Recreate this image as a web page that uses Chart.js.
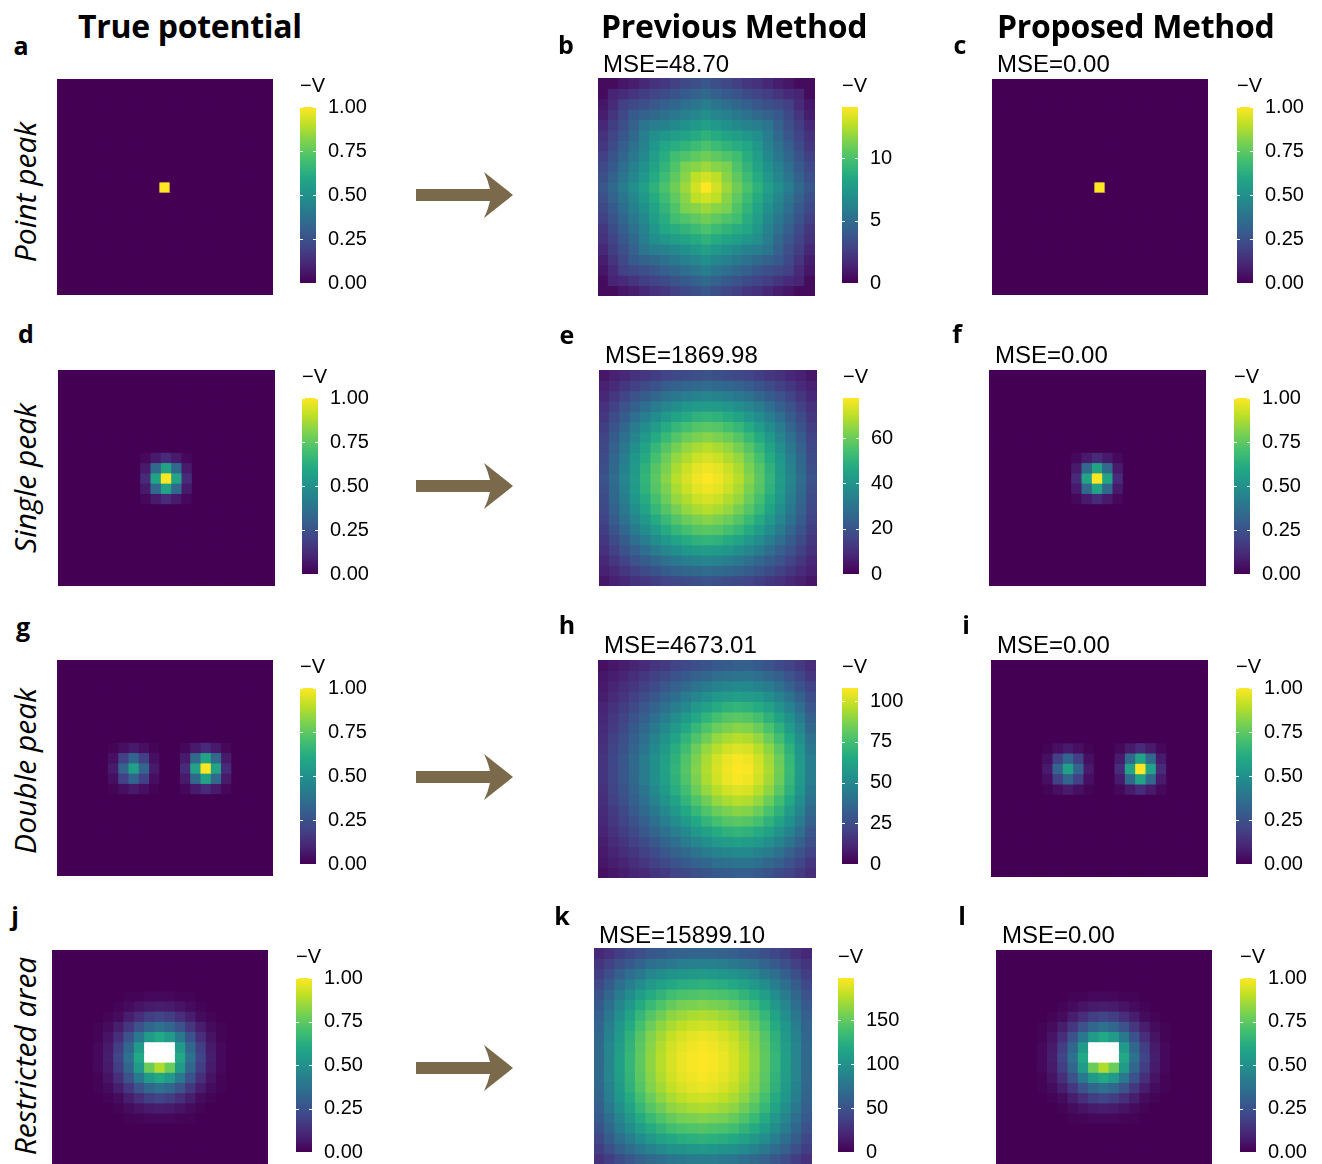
<!DOCTYPE html>
<html>
<head>
<meta charset="utf-8">
<script src="https://cdn.jsdelivr.net/npm/chart.js@4.4.1/dist/chart.umd.min.js"></script>
<style>
body{margin:0;background:#fff;width:1322px;height:1164px;position:relative;overflow:hidden;font-family:'Liberation Sans',Arial,sans-serif;color:#000}
canvas{position:absolute}
.t{position:absolute;white-space:nowrap;line-height:1}
.title{font-family:'Open Sans';font-weight:700;font-size:32px;letter-spacing:-0.3px;transform:translateY(-50%)}
.lt{font-family:'Open Sans';font-weight:700;font-size:25px;transform:translate(-50%,-50%)}
.mse{font-size:24px;transform:translateY(-50%)}
.row{font-family:'Open Sans';font-style:italic;font-size:30px;transform:translate(-50%,-50%) rotate(-90deg)}
.cbl{font-size:20px;transform:translateY(-50%)}
svg{position:absolute;left:0;top:0}
</style>
</head>
<body>
<svg width="1322" height="1164">
  <g fill="#7a6a4b">
    <path transform="translate(0,0)" d="M416,189 L490,189 Q488,180 484,172 L513,195 L484,218 Q488,210 490,201 L416,201 Z"/>
    <path transform="translate(0,291)" d="M416,189 L490,189 Q488,180 484,172 L513,195 L484,218 Q488,210 490,201 L416,201 Z"/>
    <path transform="translate(0,582)" d="M416,189 L490,189 Q488,180 484,172 L513,195 L484,218 Q488,210 490,201 L416,201 Z"/>
    <path transform="translate(0,873)" d="M416,189 L490,189 Q488,180 484,172 L513,195 L484,218 Q488,210 490,201 L416,201 Z"/>
  </g>
</svg>
<script>
// ---- data (cells as [row, col, -V]) ----
const truePointCells = [[10, 10, 1.00]];

const trueSingleCells = [
  [10, 10, 1.00],
  [9, 10, 0.58], [11, 10, 0.58], [10, 9, 0.58], [10, 11, 0.58],
  [9, 9, 0.34], [9, 11, 0.34], [11, 9, 0.34], [11, 11, 0.34],
  [8, 10, 0.12], [12, 10, 0.12], [10, 8, 0.12], [10, 12, 0.12],
  [8, 9, 0.07], [8, 11, 0.07], [12, 9, 0.07], [12, 11, 0.07],
  [9, 8, 0.07], [11, 8, 0.07], [9, 12, 0.07], [11, 12, 0.07],
  [8, 8, 0.02], [8, 12, 0.02], [12, 8, 0.02], [12, 12, 0.02]
];

const trueDoubleCells = [
  // left (weaker) peak
  [10, 7, 0.56],
  [9, 7, 0.32], [11, 7, 0.32], [10, 6, 0.32], [10, 8, 0.32],
  [9, 6, 0.19], [9, 8, 0.19], [11, 6, 0.19], [11, 8, 0.19],
  [8, 7, 0.07], [12, 7, 0.07], [10, 5, 0.07], [10, 9, 0.07],
  [8, 6, 0.04], [8, 8, 0.04], [12, 6, 0.04], [12, 8, 0.04],
  [9, 5, 0.04], [11, 5, 0.04], [9, 9, 0.04], [11, 9, 0.04],
  [8, 5, 0.01], [8, 9, 0.01], [12, 5, 0.01], [12, 9, 0.01],
  // right peak
  [10, 14, 1.00],
  [9, 14, 0.58], [11, 14, 0.58], [10, 13, 0.58], [10, 15, 0.58],
  [9, 13, 0.34], [9, 15, 0.34], [11, 13, 0.34], [11, 15, 0.34],
  [8, 14, 0.12], [12, 14, 0.12], [10, 12, 0.12], [10, 16, 0.12],
  [8, 13, 0.07], [8, 15, 0.07], [12, 13, 0.07], [12, 15, 0.07],
  [9, 12, 0.07], [11, 12, 0.07], [9, 16, 0.07], [11, 16, 0.07],
  [8, 12, 0.02], [8, 16, 0.02], [12, 12, 0.02], [12, 16, 0.02]
];

// percent of 1.00, null = restricted (white)
const trueRestrictedPct = [
  [0,0,0,0,0,0,0,0,0,0,0,0,0,0,0,0,0,0,0,0,0],
  [0,0,0,0,0,0,0,0,0,0,0,0,0,0,0,0,0,0,0,0,0],
  [0,0,0,0,0,0,0,0,0,0,0,0,0,0,0,0,0,0,0,0,0],
  [0,0,0,0,0,0,0,0,0,0,0,0,0,0,0,0,0,0,0,0,0],
  [0,0,0,0,0,0,0,1,1,2,2,2,1,1,0,0,0,0,0,0,0],
  [0,0,0,0,0,0,1,3,5,7,8,7,5,3,1,0,0,0,0,0,0],
  [0,0,0,0,0,1,3,8,13,18,20,18,13,8,3,1,0,0,0,0,0],
  [0,0,0,0,1,3,8,16,25,33,37,33,25,16,8,3,1,0,0,0,0],
  [0,0,0,0,1,5,13,25,40,54,60,54,40,25,13,5,1,0,0,0,0],
  [0,0,0,0,2,7,18,33,54,null,null,null,54,33,18,7,2,0,0,0,0],
  [0,0,0,0,2,8,20,37,60,null,null,null,60,37,20,8,2,0,0,0,0],
  [0,0,0,0,2,7,18,33,54,77,88,77,54,33,18,7,2,0,0,0,0],
  [0,0,0,0,1,5,13,25,40,54,60,54,40,25,13,5,1,0,0,0,0],
  [0,0,0,0,1,3,8,16,25,33,37,33,25,16,8,3,1,0,0,0,0],
  [0,0,0,0,0,1,3,8,13,18,20,18,13,8,3,1,0,0,0,0,0],
  [0,0,0,0,0,0,1,3,5,7,8,7,5,3,1,0,0,0,0,0,0],
  [0,0,0,0,0,0,0,1,1,2,2,2,1,1,0,0,0,0,0,0,0],
  [0,0,0,0,0,0,0,0,0,0,0,0,0,0,0,0,0,0,0,0,0],
  [0,0,0,0,0,0,0,0,0,0,0,0,0,0,0,0,0,0,0,0,0],
  [0,0,0,0,0,0,0,0,0,0,0,0,0,0,0,0,0,0,0,0,0],
  [0,0,0,0,0,0,0,0,0,0,0,0,0,0,0,0,0,0,0,0,0]
];

// previous method, percent of each map's maximum
const prevPointPct = [
  [3,3,6,8,11,14,16,19,22,24,27,24,22,19,16,14,11,8,6,3,3],
  [3,10,12,15,18,20,23,26,28,31,34,31,28,26,23,20,18,15,12,10,3],
  [6,12,19,22,24,27,30,33,36,39,42,39,36,33,30,27,24,22,19,12,6],
  [8,15,22,28,31,34,37,40,43,46,49,46,43,40,37,34,31,28,22,15,8],
  [11,18,24,31,39,42,44,47,50,53,56,53,50,47,44,42,39,31,24,18,11],
  [14,20,27,34,42,49,52,55,58,61,64,61,58,55,52,49,42,34,27,20,14],
  [16,23,30,37,44,52,59,62,65,68,71,68,65,62,59,52,44,37,30,23,16],
  [19,26,33,40,47,55,62,69,72,75,78,75,72,69,62,55,47,40,33,26,19],
  [22,28,36,43,50,58,65,72,80,82,85,82,80,72,65,58,50,43,36,28,22],
  [24,31,39,46,53,61,68,75,82,90,93,90,82,75,68,61,53,46,39,31,24],
  [27,34,42,49,56,64,71,78,85,93,100,93,85,78,71,64,56,49,42,34,27],
  [24,31,39,46,53,61,68,75,82,90,93,90,82,75,68,61,53,46,39,31,24],
  [22,28,36,43,50,58,65,72,80,82,85,82,80,72,65,58,50,43,36,28,22],
  [19,26,33,40,47,55,62,69,72,75,78,75,72,69,62,55,47,40,33,26,19],
  [16,23,30,37,44,52,59,62,65,68,71,68,65,62,59,52,44,37,30,23,16],
  [14,20,27,34,42,49,52,55,58,61,64,61,58,55,52,49,42,34,27,20,14],
  [11,18,24,31,39,42,44,47,50,53,56,53,50,47,44,42,39,31,24,18,11],
  [8,15,22,28,31,34,37,40,43,46,49,46,43,40,37,34,31,28,22,15,8],
  [6,12,19,22,24,27,30,33,36,39,42,39,36,33,30,27,24,22,19,12,6],
  [3,10,12,15,18,20,23,26,28,31,34,31,28,26,23,20,18,15,12,10,3],
  [3,3,6,8,11,14,16,19,22,24,27,24,22,19,16,14,11,8,6,3,3]
];

const prevSinglePct = [
  [6,9,11,14,16,18,20,22,23,24,25,24,23,22,20,18,16,14,11,9,6],
  [9,12,16,19,23,26,29,31,33,34,35,34,33,31,29,26,23,19,16,12,9],
  [11,16,20,25,29,33,37,40,42,44,45,44,42,40,37,33,29,25,20,16,11],
  [14,19,25,30,36,41,45,49,52,54,55,54,52,49,45,41,36,30,25,19,14],
  [16,23,29,36,42,48,53,58,61,64,65,64,61,58,53,48,42,36,29,23,16],
  [18,26,33,41,48,55,61,66,70,73,74,73,70,66,61,55,48,41,33,26,18],
  [20,29,37,45,53,61,67,73,77,80,82,80,77,73,67,61,53,45,37,29,20],
  [22,31,40,49,58,66,73,79,84,87,89,87,84,79,73,66,58,49,40,31,22],
  [23,33,42,52,61,70,77,84,88,92,94,92,88,84,77,70,61,52,42,33,23],
  [24,34,44,54,64,73,80,87,92,96,98,96,92,87,80,73,64,54,44,34,24],
  [25,35,45,55,65,74,82,89,94,98,100,98,94,89,82,74,65,55,45,35,25],
  [24,34,44,54,64,73,80,87,92,96,98,96,92,87,80,73,64,54,44,34,24],
  [23,33,42,52,61,70,77,84,88,92,94,92,88,84,77,70,61,52,42,33,23],
  [22,31,40,49,58,66,73,79,84,87,89,87,84,79,73,66,58,49,40,31,22],
  [20,29,37,45,53,61,67,73,77,80,82,80,77,73,67,61,53,45,37,29,20],
  [18,26,33,41,48,55,61,66,70,73,74,73,70,66,61,55,48,41,33,26,18],
  [16,23,29,36,42,48,53,58,61,64,65,64,61,58,53,48,42,36,29,23,16],
  [14,19,25,30,36,41,45,49,52,54,55,54,52,49,45,41,36,30,25,19,14],
  [11,16,20,25,29,33,37,40,42,44,45,44,42,40,37,33,29,25,20,16,11],
  [9,12,16,19,23,26,29,31,33,34,35,34,33,31,29,26,23,19,16,12,9],
  [6,9,11,14,16,18,20,22,23,24,25,24,23,22,20,18,16,14,11,9,6]
];

const prevDoublePct = [
  [4,6,8,10,12,15,17,20,22,24,26,28,29,30,30,28,26,23,20,17,13],
  [6,8,10,13,16,19,22,25,28,31,33,36,37,38,38,36,33,30,25,21,16],
  [7,10,13,16,19,23,27,31,34,38,41,44,46,47,47,44,41,37,31,26,20],
  [8,12,15,19,23,27,32,36,41,45,49,53,55,56,55,53,49,44,38,31,24],
  [10,14,18,22,27,32,37,42,47,53,57,61,64,65,64,61,57,51,44,36,27],
  [11,16,20,25,30,36,42,48,54,60,65,70,73,74,73,70,64,58,50,41,31],
  [12,17,22,28,34,40,47,53,60,66,72,77,80,82,81,77,71,64,55,45,34],
  [13,19,24,30,36,44,51,58,65,72,78,84,87,89,88,84,77,69,60,49,37],
  [14,20,26,32,39,47,54,62,69,77,84,89,93,95,94,89,83,74,64,52,40],
  [15,21,27,34,41,49,56,64,72,80,87,93,97,99,98,93,86,77,66,54,42],
  [15,21,27,34,41,49,57,65,73,81,88,94,98,100,99,94,87,78,67,55,42],
  [15,21,27,34,41,49,56,64,72,80,87,93,97,99,98,93,86,77,66,54,42],
  [14,20,26,32,39,47,54,62,69,77,84,89,93,95,94,89,83,74,64,52,40],
  [13,19,24,30,36,44,51,58,65,72,78,84,87,89,88,84,77,69,60,49,37],
  [12,17,22,28,34,40,47,53,60,66,72,77,80,82,81,77,71,64,55,45,34],
  [11,16,20,25,30,36,42,48,54,60,65,70,73,74,73,70,64,58,50,41,31],
  [10,14,18,22,27,32,37,42,47,53,57,61,64,65,64,61,57,51,44,36,27],
  [8,12,15,19,23,27,32,36,41,45,49,53,55,56,55,53,49,44,38,31,24],
  [7,10,13,16,19,23,27,31,34,38,41,44,46,47,47,44,41,37,31,26,20],
  [6,8,10,13,16,19,22,25,28,31,33,36,37,38,38,36,33,30,25,21,16],
  [4,6,8,10,12,15,17,20,22,24,26,28,29,30,30,28,26,23,20,17,13]
];

const prevRestrictedPct = [
  [11,14,18,21,24,27,28,30,31,32,32,32,31,30,28,27,24,21,18,14,11],
  [15,19,24,28,32,36,38,40,42,43,43,43,42,40,38,36,32,28,24,19,15],
  [18,24,30,36,40,45,48,51,52,53,54,53,52,51,48,45,40,36,30,24,18],
  [22,29,36,42,48,53,57,60,62,63,64,63,62,60,57,53,48,42,36,29,22],
  [25,33,41,48,55,61,65,69,71,72,73,72,71,69,65,61,55,48,41,33,25],
  [28,36,45,53,61,67,72,76,79,80,81,80,79,76,72,67,61,53,45,36,28],
  [30,40,49,58,66,73,78,83,85,87,88,87,85,83,78,73,66,58,49,40,30],
  [32,42,52,61,70,77,83,87,90,92,93,92,90,87,83,77,70,61,52,42,32],
  [33,44,54,64,73,81,86,91,94,96,97,96,94,91,86,81,73,64,54,44,33],
  [34,45,55,65,74,82,88,93,96,98,99,98,96,93,88,82,74,65,55,45,34],
  [34,45,56,66,75,83,89,94,97,99,100,99,97,94,89,83,75,66,56,45,34],
  [34,45,56,66,75,83,89,94,97,99,100,99,97,94,89,83,75,66,56,45,34],
  [34,45,55,65,74,82,88,93,96,98,99,98,96,93,88,82,74,65,55,45,34],
  [33,44,54,64,73,81,86,91,94,96,97,96,94,91,86,81,73,64,54,44,33],
  [32,42,52,61,70,77,83,87,90,92,93,92,90,87,83,77,70,61,52,42,32],
  [30,40,49,58,66,73,78,83,85,87,88,87,85,83,78,73,66,58,49,40,30],
  [28,36,45,53,61,67,72,76,79,80,81,80,79,76,72,67,61,53,45,36,28],
  [25,33,41,48,55,61,65,69,71,72,73,72,71,69,65,61,55,48,41,33,25],
  [22,29,36,42,48,53,57,60,62,63,64,63,62,60,57,53,48,42,36,29,22],
  [18,24,30,35,40,44,47,50,51,52,53,52,51,50,47,44,40,35,30,24,18],
  [14,18,23,27,31,34,36,39,40,41,41,41,40,39,36,34,31,27,23,18,14]
];

const prevMax = [14.1, 77.7, 108, 198];
const trueTicks = [0, 0.25, 0.5, 0.75, 1];
const prevTicks = [[0, 5, 10], [0, 20, 40, 60], [0, 25, 50, 75, 100], [0, 50, 100, 150]];
const prevMSE = ['48.70', '1869.98', '4673.01', '15899.10'];
const propMSE = ['0.00', '0.00', '0.00', '0.00'];
const rowNames = ['Point peak', 'Single peak', 'Double peak', 'Restricted area'];
const colTitles = ['True potential', 'Previous Method', 'Proposed Method'];
const panelLetters = ['a','b','c','d','e','f','g','h','i','j','k','l'];

// ---- layout ----
const heatBoxes = [
  [{x:57, y:79, w:216, h:216}, {x:598, y:78, w:217, h:218}, {x:992, y:79, w:216, h:216}],
  [{x:58, y:370, w:217, h:216}, {x:599, y:370, w:218, h:216}, {x:989, y:370, w:217, h:216}],
  [{x:57, y:660, w:216, h:216}, {x:598, y:660, w:218, h:218}, {x:991, y:660, w:217, h:217}],
  [{x:52, y:950, w:216, h:214}, {x:594, y:948, w:218, h:216}, {x:996, y:950, w:216, h:214}]
];
const cbBoxes = [
  [{x:300, t:107, b:283}, {x:842, t:107, b:283}, {x:1237, t:107, b:283}],
  [{x:302, t:398, b:574}, {x:843, t:398, b:574}, {x:1234, t:398, b:574}],
  [{x:300, t:688, b:864}, {x:842, t:688, b:864}, {x:1236, t:688, b:864}],
  [{x:296, t:978, b:1152}, {x:838, t:978, b:1152}, {x:1240, t:978, b:1152}]
];
const letterPos = [[21,45],[566,44],[960,44],[26,333],[567,334],[957,333],[23,626],[567,624],[966,624],[15,915],[562,915],[962,915]];
const msePos = [[[603,64],[997,64]], [[605,355],[995,355]], [[604,645],[997,645]], [[599,935],[1002,935]]];
const titlePos = [[78,26],[601,26],[997,26]];
const rowLabelPos = [[25,192],[25,478],[25,771],[25,1056]];

// ---- helpers ----
const VIR = [[68,1,84],[72,36,117],[65,68,135],[53,95,141],[42,120,142],[33,145,140],
             [34,168,132],[68,191,112],[122,209,81],[189,223,38],[253,231,37]];
function viridis(t) {
  t = Math.max(0, Math.min(1, t));
  const s = t * 10, i = Math.min(9, Math.floor(s)), f = s - i;
  const a = VIR[i], b = VIR[i + 1];
  return 'rgb(' + a.map((v, k) => Math.round(v + (b[k] - v) * f)).join(',') + ')';
}
function gridFromCells(cells) {
  const g = Array.from({length: 21}, () => Array(21).fill(0));
  cells.forEach(([r, c, v]) => { g[r][c] = v; });
  return g;
}
function scaleGrid(pct, max) {
  return pct.map(row => row.map(v => v === null ? null : v * max / 100));
}
function addCanvas(x, y, w, h) {
  const c = document.createElement('canvas');
  c.width = w; c.height = h;
  c.style.left = x + 'px'; c.style.top = y + 'px';
  c.style.width = w + 'px'; c.style.height = h + 'px';
  document.body.appendChild(c);
  return c;
}
function addText(cls, x, y, s) {
  const d = document.createElement('div');
  d.className = 't ' + cls;
  d.style.left = x + 'px'; d.style.top = y + 'px';
  d.textContent = s;
  document.body.appendChild(d);
}

Chart.defaults.font.family = "'Liberation Sans', Arial, sans-serif";
Chart.defaults.color = '#000';

function heatmap(box, grid, max) {
  const cv = addCanvas(box.x, box.y, box.w, box.h);
  new Chart(cv, {
    type: 'bar',
    data: {
      labels: grid[0].map((_, c) => c),
      datasets: grid.map(row => ({
        data: row.map(() => 1),
        backgroundColor: row.map(v => v === null ? '#ffffff' : viridis(v / max)),
        borderWidth: 0,
        inflateAmount: 0.5,
        barPercentage: 1,
        categoryPercentage: 1
      }))
    },
    options: {
      responsive: false,
      animation: false,
      layout: {padding: 0},
      plugins: {legend: {display: false}, tooltip: {enabled: false}},
      scales: {
        x: {display: false, stacked: true},
        y: {display: false, stacked: true, reverse: true, min: 0, max: 21}
      }
    }
  });
}

const cbTicks = {
  id: 'cbTicks',
  afterDatasetsDraw(chart) {
    const {ctx, chartArea: ca, scales: {y}} = chart;
    ctx.save();
    ctx.strokeStyle = '#ffffff';
    ctx.lineWidth = 1;
    y.ticks.forEach(t => {
      const py = Math.round(y.getPixelForValue(t.value)) + 0.5;
      ctx.beginPath();
      ctx.moveTo(ca.left, py); ctx.lineTo(ca.left + 3, py);
      ctx.moveTo(ca.right - 3, py); ctx.lineTo(ca.right, py);
      ctx.stroke();
    });
    ctx.restore();
  }
};

function colorbar(box, max, tickVals, dec) {
  // y-axis reserves label half-height (12) + tick padding (12) above and below
  const padV = 24, barW = 16, axisW = 70;
  const cv = addCanvas(box.x, box.t - padV, barW + axisW, box.b - box.t + 2 * padV);
  new Chart(cv, {
    type: 'bar',
    data: {
      labels: [''],
      datasets: [{
        data: [max],
        borderWidth: 0,
        barPercentage: 1,
        categoryPercentage: 1,
        backgroundColor(context) {
          const ca = context.chart.chartArea;
          if (!ca) return viridis(0.5);
          const g = context.chart.ctx.createLinearGradient(0, ca.bottom, 0, ca.top);
          VIR.forEach((c, i) => g.addColorStop(i / 10, 'rgb(' + c.join(',') + ')'));
          return g;
        }
      }]
    },
    options: {
      responsive: false,
      animation: false,
      layout: {padding: 0},
      plugins: {legend: {display: false}, tooltip: {enabled: false}},
      scales: {
        x: {display: false},
        y: {
          position: 'right', min: 0, max: max,
          border: {display: false},
          grid: {display: false, drawTicks: false},
          afterFit(s) { s.width = axisW; },
          afterBuildTicks(s) { s.ticks = tickVals.map(v => ({value: v})); },
          ticks: {
            padding: 12, color: '#000', autoSkip: false,
            font: {size: 20, lineHeight: 1.2},
            callback: v => Number(v).toFixed(dec)
          }
        }
      }
    },
    plugins: [cbTicks]
  });
  addText('cbl', box.x, box.t - 22, '\u2212V');
}

// ---- build ----
const trueGrids = [
  gridFromCells(truePointCells),
  gridFromCells(trueSingleCells),
  gridFromCells(trueDoubleCells),
  scaleGrid(trueRestrictedPct, 1)
];
const prevGrids = [prevPointPct, prevSinglePct, prevDoublePct, prevRestrictedPct]
  .map((g, i) => scaleGrid(g, prevMax[i]));

for (let r = 0; r < 4; r++) {
  heatmap(heatBoxes[r][0], trueGrids[r], 1);
  colorbar(cbBoxes[r][0], 1, trueTicks, 2);
  heatmap(heatBoxes[r][1], prevGrids[r], prevMax[r]);
  colorbar(cbBoxes[r][1], prevMax[r], prevTicks[r], 0);
  heatmap(heatBoxes[r][2], trueGrids[r], 1);
  colorbar(cbBoxes[r][2], 1, trueTicks, 2);
  addText('mse', msePos[r][0][0], msePos[r][0][1], 'MSE=' + prevMSE[r]);
  addText('mse', msePos[r][1][0], msePos[r][1][1], 'MSE=' + propMSE[r]);
  addText('row', rowLabelPos[r][0], rowLabelPos[r][1], rowNames[r]);
}
colTitles.forEach((s, i) => addText('title', titlePos[i][0], titlePos[i][1], s));
panelLetters.forEach((s, i) => addText('lt', letterPos[i][0], letterPos[i][1], s));
</script>
</body>
</html>
